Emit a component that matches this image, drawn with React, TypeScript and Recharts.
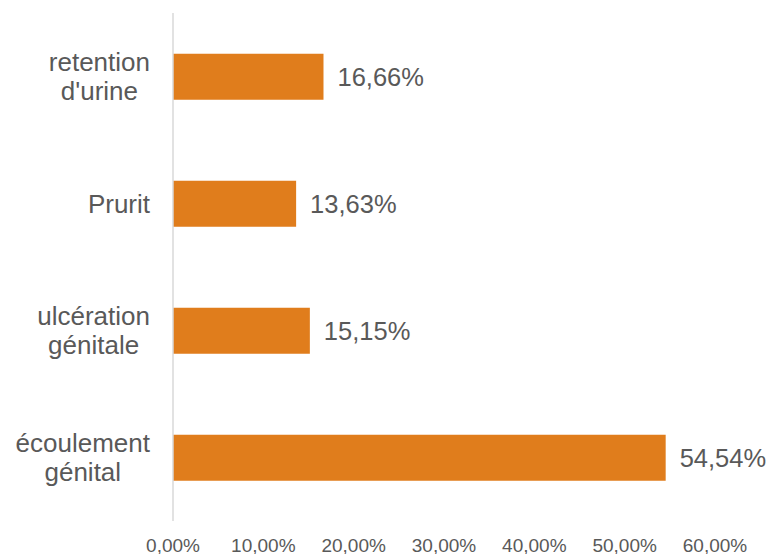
import { BarChart, Bar, XAxis, YAxis, LabelList } from 'recharts';

const categories = ["retention\nd'urine", 'Prurit', 'ulcération\ngénitale', 'écoulement\ngénital'];
const values = [16.66, 13.63, 15.15, 54.54];
const xTicks = [0, 10, 20, 30, 40, 50, 60];

const data = categories.map((name, i) => ({ name, value: values[i] }));

const fmt = (v: number) => v.toFixed(2).replace('.', ',') + '%';
const FONT = '"Liberation Sans", Arial, sans-serif';
const GRAY = '#595959';

let ctx: CanvasRenderingContext2D | null = null;
const measure = (s: string, size: number) => {
  if (!ctx) ctx = document.createElement('canvas').getContext('2d');
  if (!ctx) return s.length * size * 0.5;
  ctx.font = `${size}px ${FONT}`;
  return ctx.measureText(s).width;
};

const CategoryTick = (props: any) => {
  const { y, payload } = props;
  const lines = String(payload.value).split('\n');
  const size = 26;
  const maxW = Math.max(...lines.map((l) => measure(l, size)));
  const cx = 150 - maxW / 2;
  const lh = 29;
  const startY = y - ((lines.length - 1) * lh) / 2;
  return (
    <text x={cx} y={startY} textAnchor="middle" fill={GRAY} fontSize={size} fontFamily={FONT} dominantBaseline="central">
      {lines.map((l, i) => (
        <tspan key={i} x={cx} y={startY + i * lh} dominantBaseline="central">
          {l}
        </tspan>
      ))}
    </text>
  );
};

const ValueTick = (props: any) => {
  const { x, payload } = props;
  return (
    <text x={x} y={545} textAnchor="middle" fill={GRAY} fontSize={19} fontFamily={FONT} dominantBaseline="central">
      {fmt(payload.value)}
    </text>
  );
};

export default function App() {
  return (
    <div style={{ position: 'absolute', left: 0, top: 0, background: '#fff' }}>
      <BarChart
        width={773}
        height={554}
        data={data}
        layout="vertical"
        margin={{ top: 13, right: 58, bottom: 0, left: 0 }}
        barCategoryGap="32%"
      >
        <XAxis
          type="number"
          domain={[0, 60]}
          ticks={xTicks}
          axisLine={false}
          tickLine={false}
          height={33}
          tick={<ValueTick />}
          interval={0}
        />
        <YAxis
          type="category"
          dataKey="name"
          width={173}
          axisLine={{ stroke: '#d9d9d9', strokeWidth: 1.5 }}
          tickLine={false}
          tick={<CategoryTick />}
          interval={0}
        />
        <Bar dataKey="value" fill="#E07D1C" isAnimationActive={false}>
          <LabelList
            dataKey="value"
            position="right"
            offset={14}
            formatter={(v: any) => fmt(Number(v))}
            fill={GRAY}
            fontSize={25.5}
            fontFamily={FONT}
          />
        </Bar>
      </BarChart>
    </div>
  );
}
